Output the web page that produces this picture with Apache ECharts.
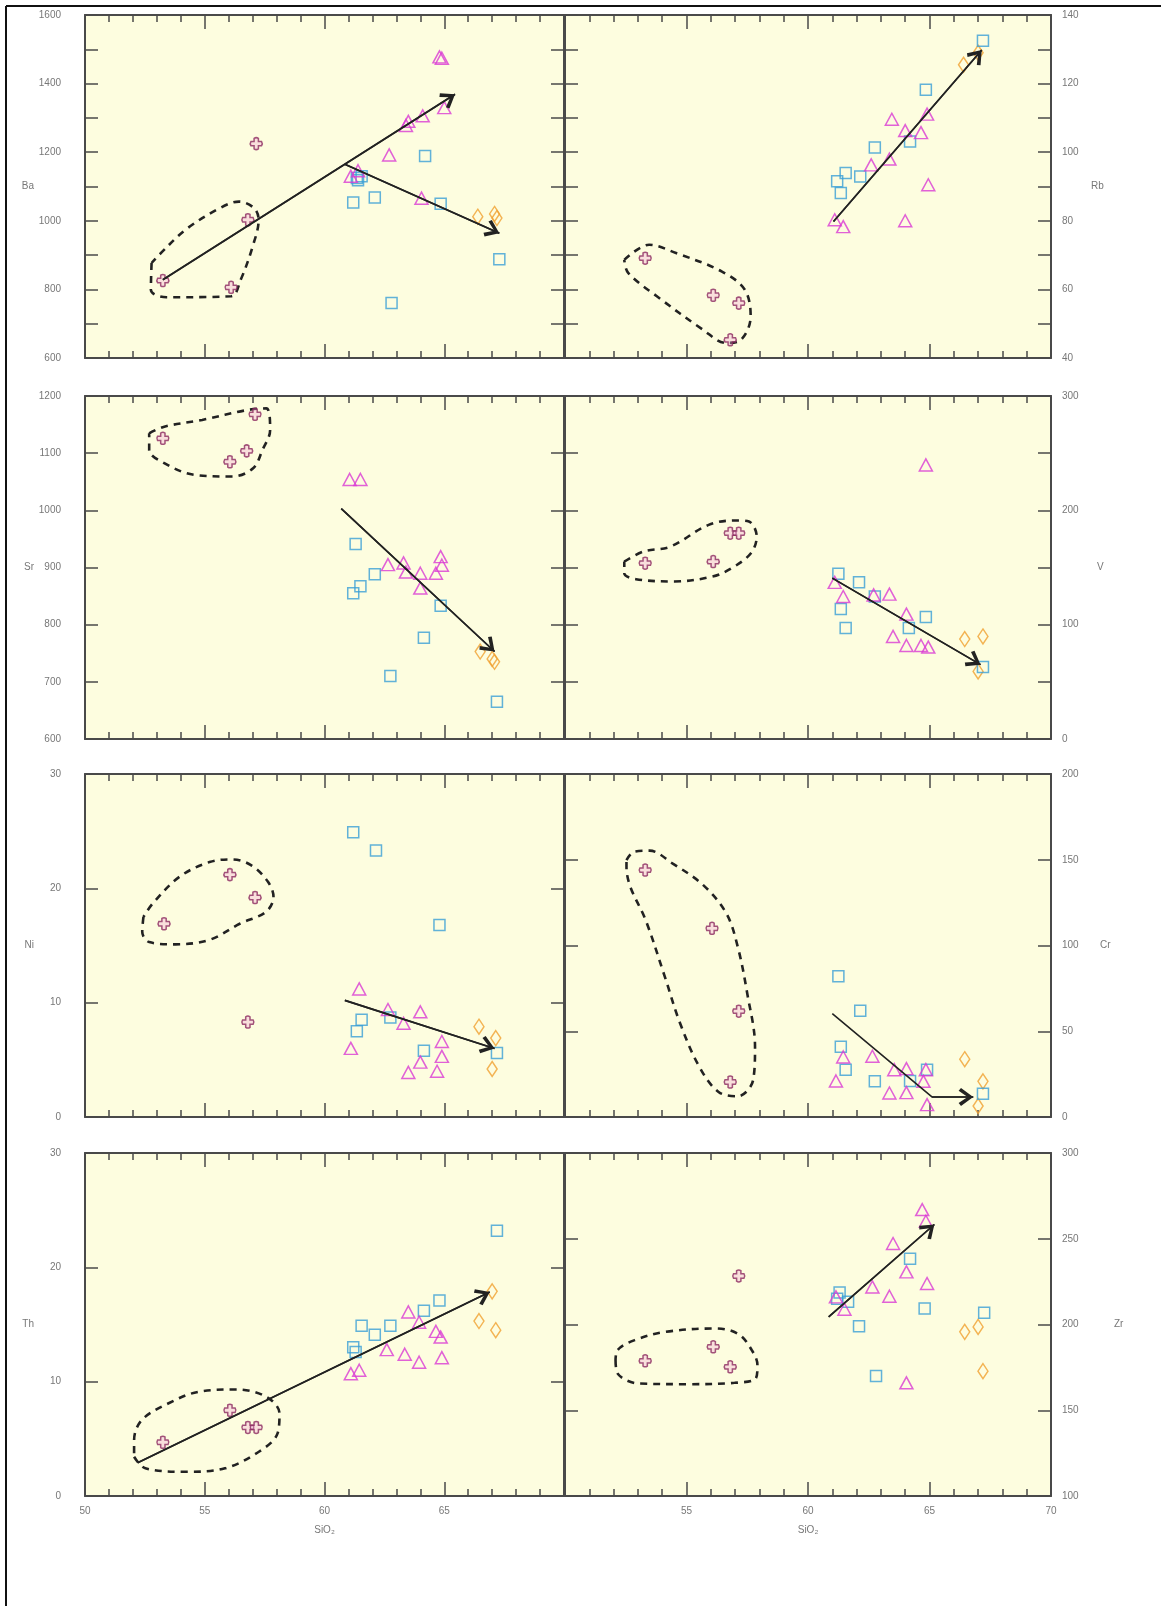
<!DOCTYPE html>
<html>
<head>
<meta charset="utf-8">
<script src="https://cdn.jsdelivr.net/npm/echarts@6/dist/echarts.min.js"></script>
<style>html,body{margin:0;padding:0;background:#fff}#chart{width:1161px;height:1606px}</style>
</head>
<body>
<div id="chart"></div>
<script>
// ---------------- DATA ----------------
const elements = ['Ba', 'Rb', 'Sr', 'V', 'Ni', 'Cr', 'Th', 'Zr'];
const xTickLabels = [50, 55, 60, 65, 70];
const yMins = [600, 40, 600, 0, 0, 0, 0, 100];
const yMaxs = [1600, 140, 1200, 300, 30, 200, 30, 300];
const yTickSteps = [100, 10, 100, 50, 10, 50, 10, 50];
const yLabelSteps = [200, 20, 100, 100, 10, 50, 10, 50];

// Ba
const baCross = [[53.25,826],[56.1,806],[56.8,1003],[57.15,1225]];
const baTri = [[61.1,1130],[61.4,1146],[62.7,1192],[63.4,1278],[63.5,1290],[64.1,1306],[64.05,1066],[64.8,1478],[64.9,1474],[65.0,1330]];
const baSq = [[61.2,1053],[61.35,1125],[61.55,1130],[61.4,1118],[62.1,1068],[62.8,760],[64.2,1189],[64.85,1050],[67.3,888]];
const baOr = [[66.4,1012],[67.1,1020],[67.2,1008]];
// Rb
const rbCross = [[53.3,69.1],[56.1,58.3],[57.15,56.0],[56.8,45.3]];
const rbTri = [[61.1,80.3],[61.45,78.3],[62.6,96.3],[63.35,98.0],[63.45,109.6],[64.0,106.3],[64.65,105.7],[64.9,111.1],[64.95,90.5],[64.0,80.0]];
const rbSq = [[61.2,91.5],[61.55,93.9],[61.35,88.1],[62.15,92.9],[62.75,101.4],[64.2,103.1],[64.85,118.2],[67.2,132.5]];
const rbOr = [[66.4,125.5],[67.0,129.0]];
// Sr
const srCross = [[53.25,1126],[56.05,1085],[56.75,1104],[57.1,1168]];
const srTri = [[61.05,1054],[61.5,1054],[62.65,905],[63.3,908],[63.4,892],[64.0,890],[64.0,864],[64.65,890],[64.85,919],[64.9,904]];
const srSq = [[61.3,941],[61.2,855],[61.5,867],[62.1,888],[64.85,833],[64.15,777],[62.75,710],[67.2,665]];
const srOr = [[66.5,753],[67.0,740],[67.1,735]];
// V
const vCross = [[53.3,153.8],[56.1,155.2],[56.8,180],[57.15,180]];
const vTri = [[64.85,239.7],[61.1,137],[61.45,124.6],[63.35,126.7],[64.05,109.2],[63.5,89.7],[64.05,81.8],[64.65,81.8],[64.95,80.4],[62.7,126]];
const vSq = [[61.25,144.5],[62.1,137],[62.75,124.6],[61.35,113.6],[61.55,97],[64.15,97],[64.85,106.6],[67.2,62.9]];
const vOr = [[66.45,87.4],[67.2,89.7],[67.0,59.1]];
// Ni
const niCross = [[53.3,16.9],[56.05,21.2],[57.1,19.2],[56.8,8.3]];
const niTri = [[61.45,11.2],[61.1,6.0],[62.65,9.4],[63.3,8.2],[64.0,9.2],[64.9,6.6],[64.9,5.3],[64.0,4.8],[63.5,3.9],[64.7,4.0]];
const niSq = [[61.2,24.9],[62.15,23.3],[64.8,16.8],[61.55,8.5],[61.35,7.5],[62.75,8.7],[64.15,5.8],[67.2,5.6]];
const niOr = [[66.45,7.9],[67.15,6.9],[67.0,4.2]];
// Cr
const crCross = [[53.3,144],[56.05,110],[57.15,61.7],[56.8,20.4]];
const crTri = [[61.15,21],[61.45,35],[62.65,35.4],[63.55,27.6],[64.05,28.2],[64.85,27.6],[64.75,20.8],[63.35,14.0],[64.05,14.2],[64.9,7.2]];
const crSq = [[61.25,82.1],[62.15,61.9],[61.35,40.9],[61.55,27.6],[62.75,20.8],[64.2,21],[64.9,27.6],[67.2,13.6]];
const crOr = [[66.45,33.7],[67.2,20.8],[67.0,6.4]];
// Th
const thCross = [[53.25,4.7],[56.05,7.5],[56.8,6.0],[57.15,6.0]];
const thTri = [[61.1,10.7],[61.45,11.0],[62.6,12.8],[63.35,12.4],[63.5,16.1],[63.95,11.7],[63.95,15.2],[64.65,14.4],[64.85,13.9],[64.9,12.1]];
const thSq = [[61.2,13.0],[61.3,12.6],[61.55,14.9],[62.1,14.1],[62.75,14.9],[64.15,16.2],[64.8,17.1],[67.2,23.2]];
const thOr = [[67.0,17.9],[66.45,15.3],[67.15,14.5]];
// Zr
const zrCross = [[53.3,178.8],[56.1,187],[56.8,175.3],[57.15,228.3]];
const zrTri = [[64.7,267],[64.85,260.2],[63.5,247.2],[64.05,230.7],[62.65,221.9],[63.35,216.5],[64.9,223.9],[61.5,208.9],[61.15,216.1],[64.05,166]];
const zrSq = [[61.3,218.6],[61.65,213.2],[61.2,215],[64.2,238.4],[64.8,209.3],[62.1,199],[62.8,169.9],[67.25,206.8]];
const zrOr = [[66.45,195.7],[67.0,198.6],[67.2,172.8]];

// Trend arrows (polylines, arrowhead at the last point)
const baArrows = [[[53.25,828],[65.45,1369]], [[60.85,1165],[67.3,964]]];
const rbArrows = [[[61.05,79.8],[67.15,129.8]]];
const srArrows = [[[60.7,1003],[67.1,753]]];
const vArrows = [[[61.0,140.7],[67.1,65]]];
const niArrows = [[[60.85,10.2],[67.1,6.0]]];
const crArrows = [[[61.0,60.3],[65.1,11.7],[66.8,11.7]]];
const thArrows = [[[52.2,2.9],[66.9,17.85]]];
const zrArrows = [[[60.85,204.5],[65.2,258.3]]];

// Dashed group outlines
const baOutline = [[52.78,877],[52.75,799],[53.4,777],[56.1,780],[56.5,828],[57.0,925],[57.25,1003],[57.06,1037],[56.43,1056],[55.63,1037],[54.2,974],[53.1,901],[52.78,877]];
const rbOutline = [[52.44,68.6],[53.46,73.0],[54.57,70.6],[56.46,65.2],[57.4,59.9],[57.64,52.1],[57.24,45.3],[56.61,44.4],[55.67,48.3],[53.78,58.0],[52.6,64.8],[52.44,68.6]];
const srOutline = [[52.68,1134.8],[53.31,1146.4],[54.89,1158.1],[56.78,1175.5],[57.57,1178.4],[57.73,1140.6],[57.41,1105.6],[57.02,1073.6],[56.15,1059.1],[54.57,1062],[53.31,1082.4],[52.68,1105.6],[52.68,1134.8]];
const vOutline = [[52.44,155.2],[53.23,164],[54.34,168.3],[55.91,187.3],[57.02,191.1],[57.57,190.2],[57.89,177.1],[57.65,162.5],[56.86,149.4],[56.07,142.1],[54.5,137.8],[52.92,139.8],[52.44,145.0],[52.44,155.2]];
const niOutline = [[52.44,17.5],[52.39,16.2],[52.68,15.3],[53.78,15.1],[55.2,15.5],[56.46,16.9],[57.56,17.95],[57.87,19.26],[57.64,20.57],[56.93,22.03],[56.14,22.53],[55.2,22.3],[53.94,21.0],[52.83,18.68],[52.44,17.5]];
const crOutline = [[52.53,149.8],[52.84,154.7],[53.48,155.3],[54.42,147.9],[55.69,135.2],[56.64,118.7],[57.11,99.2],[57.5,72],[57.82,40.9],[57.74,21.4],[57.11,12.1],[56.32,14.6],[55.53,29.2],[54.74,54.5],[54.11,81.7],[53.32,114.8],[52.69,134.2],[52.53,145.9],[52.53,149.8]];
const thOutline = [[52.05,3.43],[52.52,2.42],[54.26,2.12],[55.84,2.42],[57.26,3.87],[58.04,5.47],[58.12,7.22],[57.57,8.68],[56.31,9.32],[54.73,9.11],[53.47,8.09],[52.37,6.64],[52.05,4.89],[52.05,3.43]];
const zrOutline = [[52.08,179.2],[52.16,171.5],[53.03,165.6],[55.08,165.2],[56.98,166],[57.85,168.5],[57.92,176.3],[57.69,185],[57.14,194.4],[56.19,197.7],[54.14,195.7],[52.87,190.9],[52.16,185],[52.08,179.2]];

const crossData = [baCross, rbCross, srCross, vCross, niCross, crCross, thCross, zrCross];
const triData = [baTri, rbTri, srTri, vTri, niTri, crTri, thTri, zrTri];
const sqData = [baSq, rbSq, srSq, vSq, niSq, crSq, thSq, zrSq];
const orData = [baOr, rbOr, srOr, vOr, niOr, crOr, thOr, zrOr];
const arrowData = [baArrows, rbArrows, srArrows, vArrows, niArrows, crArrows, thArrows, zrArrows];
const outlineData = [baOutline, rbOutline, srOutline, vOutline, niOutline, crOutline, thOutline, zrOutline];

// ---------------- LAYOUT / STYLE ----------------
const layout = {
  colLeft: [85, 565], colWidth: [479, 486],
  rowTop: [15, 396, 774, 1153], rowHeight: 343,
  nameGap: [51, 40, 51, 46, 51, 49, 51, 63]
};
const FONT = '"Liberation Sans", Arial, sans-serif';
const AXIS_COLOR = '#4a4a4a';
const LABEL_COLOR = '#777';
const BG = '#fdfddf';
const CROSS_PATH = 'path://M3.2,0.6Q5,-0.6 6.8,0.6L6.8,3.2L9.4,3.2Q10.6,5 9.4,6.8L6.8,6.8L6.8,9.4Q5,10.6 3.2,9.4L3.2,6.8L0.6,6.8Q-0.6,5 0.6,3.2L3.2,3.2Z';
const CHEVRON = 'path://M5,0L5.01,0M5,20L5.01,20M5,10L10,17.2L8.4,18.6L5,13.3L1.6,18.6L0,17.2Z';

const grids = [], xAxes = [], yAxes = [], series = [];

elements.forEach((el, p) => {
  const col = p % 2, row = Math.floor(p / 2);
  grids.push({
    left: layout.colLeft[col], top: layout.rowTop[row],
    width: layout.colWidth[col], height: layout.rowHeight,
    show: true, backgroundColor: BG, borderWidth: 0,
    containLabel: false, outerBoundsMode: 'none'
  });
  ['bottom', 'top'].forEach(pos => {
    const isBottom = pos === 'bottom';
    const showLab = isBottom && row === 3;
    xAxes.push({
      gridIndex: p, type: 'value', position: pos,
      min: xTickLabels[0], max: xTickLabels[xTickLabels.length - 1],
      interval: xTickLabels[1] - xTickLabels[0],
      axisLine: { show: true, onZero: false, lineStyle: { color: AXIS_COLOR, width: 2 } },
      axisTick: { show: true, inside: true, length: 14, lineStyle: { color: AXIS_COLOR, width: 1.5 } },
      minorTick: { show: true, splitNumber: 5, length: 7, lineStyle: { color: AXIS_COLOR, width: 1.5 } },
      splitLine: { show: false }, minorSplitLine: { show: false },
      axisLabel: {
        show: showLab, color: LABEL_COLOR, fontSize: 10, fontFamily: FONT, margin: 10,
        showMinLabel: col === 0, showMaxLabel: col === 1
      },
      name: showLab ? 'SiO\u2082' : '',
      nameLocation: 'middle', nameGap: 29, nameMoveOverlap: false,
      nameTextStyle: { color: LABEL_COLOR, fontSize: 10, fontFamily: FONT }
    });
  });
  ['left', 'right'].forEach(pos => {
    const labelled = (pos === 'left' && col === 0) || (pos === 'right' && col === 1);
    const step = yLabelSteps[p];
    yAxes.push({
      gridIndex: p, type: 'value', position: pos,
      min: yMins[p], max: yMaxs[p], interval: yTickSteps[p],
      axisLine: { show: true, onZero: false, lineStyle: { color: AXIS_COLOR, width: 2 } },
      axisTick: { show: true, inside: true, length: 13, lineStyle: { color: AXIS_COLOR, width: 1.5 } },
      splitLine: { show: false },
      axisLabel: {
        show: labelled, color: LABEL_COLOR, fontSize: 10, fontFamily: FONT,
        margin: pos === 'left' ? 24 : 11,
        showMinLabel: true, showMaxLabel: true,
        formatter: v => (Math.round(v) % step === 0 ? String(Math.round(v)) : '')
      },
      name: labelled ? el : '',
      nameLocation: 'middle', nameRotate: 0, nameGap: layout.nameGap[p], nameMoveOverlap: false,
      nameTextStyle: { color: LABEL_COLOR, fontSize: 10, fontFamily: FONT }
    });
  });

  const xi = 2 * p, yi = 2 * p;
  // dashed outline
  series.push({
    type: 'line', xAxisIndex: xi, yAxisIndex: yi, data: outlineData[p],
    smooth: 0.35, symbol: 'none', silent: true, z: 2,
    lineStyle: { color: '#222', width: 2.6, type: [7, 6] }
  });
  // arrows
  arrowData[p].forEach(a => {
    const last = a.length - 1;
    series.push({
      type: 'line', xAxisIndex: xi, yAxisIndex: yi, data: a,
      symbol: 'none', silent: true, z: 4,
      lineStyle: { color: '#222', width: 1.6 },
      markLine: {
        silent: true, animation: false,
        symbol: ['none', CHEVRON], symbolSize: [18, 34],
        label: { show: false },
        lineStyle: { color: '#222', width: 1.6, type: 'solid' },
        emphasis: { disabled: true },
        data: [[{ coord: a[last - 1] }, { coord: a[last] }]]
      }
    });
  });
  const sc = (data, symbol, size, border, fill) => ({
    type: 'scatter', xAxisIndex: xi, yAxisIndex: yi, data,
    symbol, symbolSize: size, silent: true, z: 3,
    itemStyle: { color: fill, borderColor: border, borderWidth: 1.5 }
  });
  series.push(sc(orData[p], 'diamond', [10, 15], '#f0a030', 'rgba(0,0,0,0)'));
  series.push(sc(sqData[p], 'rect', 11, '#3a9fd6', 'rgba(0,0,0,0)'));
  series.push(sc(triData[p], 'triangle', [13, 12], '#d93ad3', 'rgba(0,0,0,0)'));
  series.push(sc(crossData[p], CROSS_PATH, 12, '#8c2a60', 'rgba(240,170,215,0.45)'));
});

const chart = echarts.init(document.getElementById('chart'), null, { renderer: 'canvas' });
chart.setOption({
  animation: false,
  backgroundColor: '#fff',
  grid: grids, xAxis: xAxes, yAxis: yAxes, series,
  graphic: [
    { type: 'line', shape: { x1: 6, y1: 6, x2: 1161, y2: 6 }, style: { stroke: '#111', lineWidth: 2 }, silent: true },
    { type: 'line', shape: { x1: 6, y1: 6, x2: 6, y2: 1606 }, style: { stroke: '#111', lineWidth: 2 }, silent: true }
  ]
});
</script>
</body>
</html>
